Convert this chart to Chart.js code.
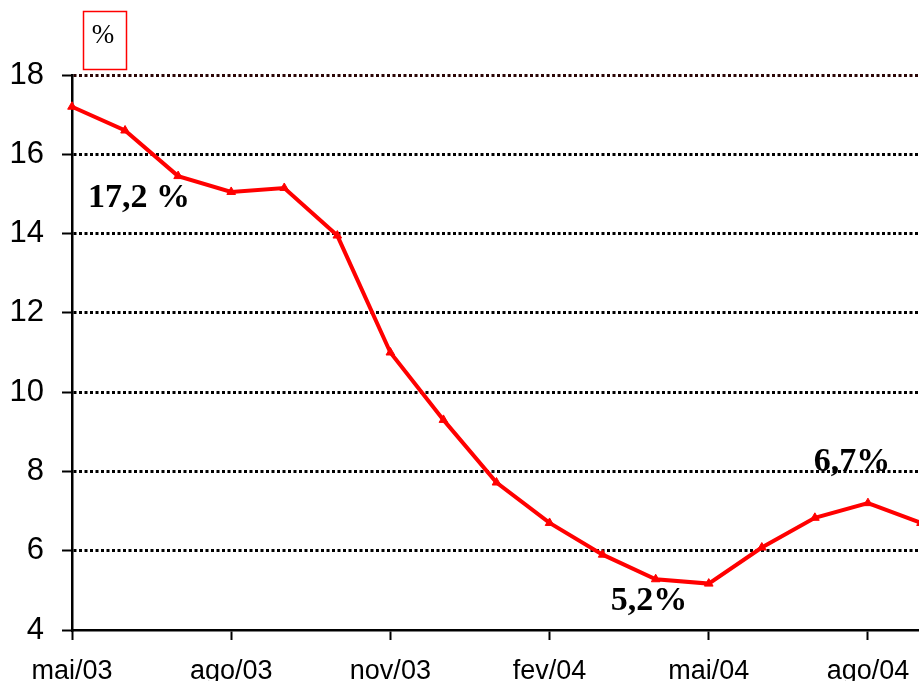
<!DOCTYPE html>
<html>
<head>
<meta charset="utf-8">
<script src="https://cdn.jsdelivr.net/npm/chart.js@4/dist/chart.umd.min.js"></script>
<style>
  html, body { margin: 0; padding: 0; background: #fff; overflow: hidden; }
  #wrap { width: 919px; height: 681px; overflow: hidden; position: relative; }
  #c { display: block; }
</style>
</head>
<body>
<div id="wrap"><canvas id="c" width="936" height="681"></canvas></div>
<script>
const months = ['mai/03','jun/03','jul/03','ago/03','set/03','out/03','nov/03','dez/03',
                'jan/04','fev/04','mar/04','abr/04','mai/04','jun/04','jul/04','ago/04','set/04'];
const rates = [17.2, 16.6, 15.45, 15.05, 15.15, 13.95, 11.0, 9.3,
               7.72, 6.7, 5.9, 5.28, 5.17, 6.08, 6.83, 7.2, 6.7];
const yTicks = [4, 6, 8, 10, 12, 14, 16, 18];
const unitLabel = '%';
const notes = [
  { text: '17,2 %', x: 139, y: 198 },
  { text: '5,2%',   x: 649, y: 601 },
  { text: '6,7%',   x: 852, y: 462 }
];

const notesPlugin = {
  id: 'notes',
  afterDraw(chart) {
    const ctx = chart.ctx;
    ctx.save();
    ctx.strokeStyle = '#ff0000';
    ctx.lineWidth = 1.5;
    ctx.strokeRect(83.5, 11.5, 43, 58);
    ctx.fillStyle = '#000';
    ctx.font = '27px "Liberation Serif", "Times New Roman", serif';
    ctx.textAlign = 'center';
    ctx.textBaseline = 'middle';
    ctx.fillText(unitLabel, 103, 36);
    ctx.font = 'bold 34px "Liberation Serif", "Times New Roman", serif';
    notes.forEach(n => ctx.fillText(n.text, n.x, n.y));
    ctx.restore();
  }
};

new Chart(document.getElementById('c'), {
  type: 'line',
  data: {
    labels: months,
    datasets: [{
      data: rates,
      borderColor: '#ff0000',
      backgroundColor: '#ff0000',
      borderWidth: 4,
      pointStyle: 'triangle',
      pointRadius: 5,
      pointBorderWidth: 1,
      tension: 0,
      clip: false
    }]
  },
  options: {
    responsive: false,
    animation: false,
    layout: { padding: { top: 75, right: 0, left: 0, bottom: 0 } },
    plugins: { legend: { display: false }, tooltip: { enabled: false } },
    scales: {
      x: {
        type: 'category',
        offset: false,
        afterFit(scale) { scale.height = 51; },
        grid: {
          display: true,
          drawOnChartArea: false,
          drawTicks: true,
          tickLength: 10,
          tickWidth: 2,
          color: ctx => (ctx.index % 3 === 0 ? '#000' : 'rgba(0,0,0,0)'),
          tickColor: ctx => (ctx.index % 3 === 0 ? '#000' : 'rgba(0,0,0,0)')
        },
        border: { display: true, color: '#000', width: 2.5 },
        ticks: {
          autoSkip: false,
          maxRotation: 0,
          minRotation: 0,
          padding: 15,
          color: '#000',
          font: { family: '"Liberation Sans", Arial, sans-serif', size: 27 },
          callback(value, index) { return index % 3 === 0 ? months[index] : ''; }
        }
      },
      y: {
        min: 4,
        max: 18,
        afterFit(scale) { scale.width = 72; },
        afterBuildTicks(scale) { scale.ticks = yTicks.map(v => ({ value: v })); },
        grid: {
          color: ctx => (ctx.tick && ctx.tick.value === 4 ? 'rgba(0,0,0,0)' : (ctx.tick && ctx.tick.value === 18 ? '#2a0505' : '#000')),
          lineWidth: 3,
          tickLength: 10,
          tickWidth: 2,
          tickColor: '#000',
          tickBorderDash: []
        },
        border: { display: true, color: '#000', width: 2.5, dash: [3, 2.5] },
        ticks: {
          padding: 18,
          color: '#000',
          font: { family: '"Liberation Sans", Arial, sans-serif', size: 31 }
        }
      }
    }
  },
  plugins: [notesPlugin]
});
</script>
</body>
</html>
